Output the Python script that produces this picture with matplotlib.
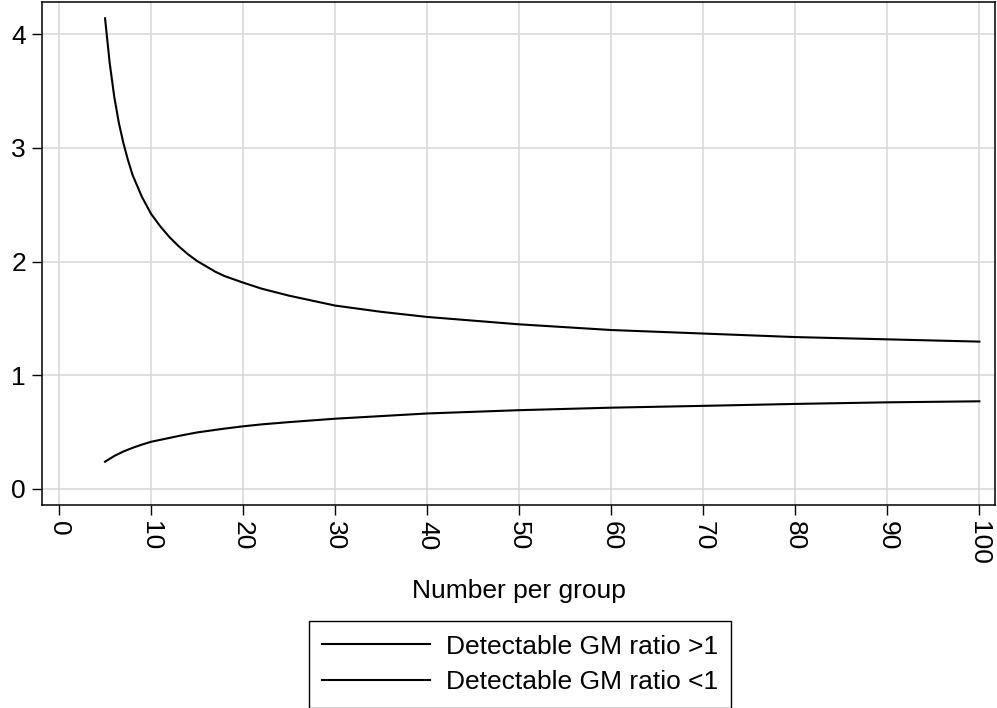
import numpy as np
import matplotlib
matplotlib.use("Agg")
import matplotlib.pyplot as plt

# values
n_per_group = [5, 5.5, 6, 6.5, 7, 7.5, 8, 9, 10, 11, 12, 13, 14, 15, 17, 18, 20,
               22, 25, 30, 35, 40, 50, 60, 70, 80, 90, 100]
gm_ratio_hi = [4.14, 3.75, 3.45, 3.22, 3.04, 2.89, 2.76, 2.57, 2.42, 2.31, 2.215,
               2.135, 2.065, 2.005, 1.91, 1.872, 1.815, 1.762, 1.70, 1.613, 1.558,
               1.513, 1.448, 1.398, 1.367, 1.336, 1.316, 1.296]
gm_ratio_lo = [0.24, 0.265, 0.29, 0.31, 0.33, 0.346, 0.362, 0.39, 0.415, 0.432,
               0.449, 0.466, 0.482, 0.497, 0.52, 0.531, 0.551, 0.568, 0.588,
               0.618, 0.641, 0.664, 0.693, 0.715, 0.731, 0.748, 0.762, 0.771]
x_ticks = list(range(0, 101, 10))
y_ticks = [0, 1, 2, 3, 4]
labels = ["Detectable GM ratio >1", "Detectable GM ratio <1"]

plt.rcParams['font.family'] = ['Liberation Sans', 'DejaVu Sans']

fig = plt.figure(figsize=(9.97, 7.08), dpi=100)
ax = fig.add_axes([42/997, 1 - 505/708, (995-42)/997, (505-2)/708])

ax.plot(n_per_group, gm_ratio_hi, color='black', lw=1.5, label=labels[0],
        solid_joinstyle='round')
ax.plot(n_per_group, gm_ratio_lo, color='black', lw=1.5, label=labels[1],
        solid_joinstyle='round')

ax.set_xlim(-1.85, 101.7)
ax.set_ylim(-0.141, 4.283)
ax.set_xticks(x_ticks)
ax.set_yticks(y_ticks)
ax.grid(True, color='#d7d7d7', lw=1.1)
ax.set_axisbelow(True)
ax.tick_params(axis='both', length=7.5, width=1, labelsize=19, pad=4)
ax.tick_params(axis='x', labelrotation=-90)
for s in ax.spines.values():
    s.set_linewidth(1.1)

ax.set_xlabel("Number per group", fontsize=19, labelpad=10)

leg = fig.legend(loc='center', bbox_to_anchor=(520/997, 1 - 664.5/708),
                 fontsize=19, frameon=True, fancybox=False, framealpha=1,
                 edgecolor='black', handlelength=4.1, handletextpad=0.6,
                 labelspacing=0.45, borderpad=0.5, borderaxespad=0)
leg.get_frame().set_linewidth(1.0)

fig.savefig("out.png", dpi=100)
